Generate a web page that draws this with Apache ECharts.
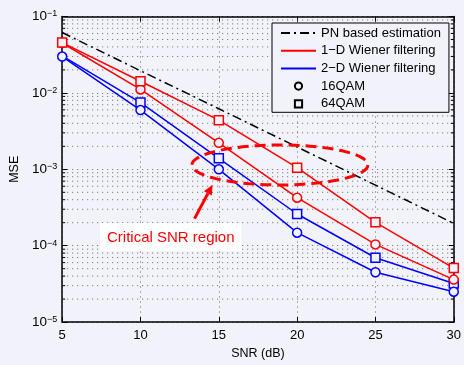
<!DOCTYPE html>
<html><head><meta charset="utf-8">
<script src="https://cdn.jsdelivr.net/npm/echarts@6/dist/echarts.min.js"></script>
<style>html,body{margin:0;padding:0;background:#f2f2fa;}#c{width:464px;height:365px;}</style>
</head><body><div id="c"></div>
<script>
var snr = [5, 10, 15, 20, 25, 30];
var pnEstimation = [0.0617, 0.0195, 0.0062, 0.00196, 0.00062, 0.000196];
var wiener1D_16QAM = [0.0450, 0.0111, 0.00222, 0.000425, 0.000104, 0.000036];
var wiener1D_64QAM = [0.0456, 0.0142, 0.0044, 0.00105, 0.000202, 0.000051];
var wiener2D_16QAM = [0.0299, 0.00596, 0.00100, 0.000148, 0.0000449, 0.0000250];
var wiener2D_64QAM = [0.0305, 0.00747, 0.00139, 0.000260, 0.0000696, 0.0000320];
var legendNames = ['PN based estimation', '1\u2212D Wiener filtering', '2\u2212D Wiener filtering', '16QAM', '64QAM'];
var xTicks = [5, 10, 15, 20, 25, 30];
var yMin = 1e-5, yMax = 1e-1;

var BG = '#f2f2fa';
var FONT = '"Liberation Sans", Arial, sans-serif';

function pairs(ys) { return snr.map(function (x, i) { return [x, ys[i]]; }); }

var minorVals = [];
for (var e = -5; e < -1; e++) {
  for (var m = 2; m <= 9; m++) minorVals.push([5, m * Math.pow(10, e)]);
}

function dataSeries(name, ys, color, symbol, z, hideFirst) {
  var d = pairs(ys).map(function (p, i) {
    return (hideFirst && i === 0) ? { value: p, symbol: 'none' } : { value: p };
  });
  return {
    type: 'line', name: name, data: d, symbol: symbol, symbolSize: 9,
    showAllSymbol: true, z: z,
    lineStyle: { color: color, width: 1.5 },
    itemStyle: { color: BG, borderColor: color, borderWidth: 1.5 },
    emphasis: { disabled: true }, animation: false
  };
}

var chart = echarts.init(document.getElementById('c'), null, { renderer: 'canvas' });

var supFmt = function (v) {
  var ex = Math.round(Math.log10(v));
  return '{b|10}{e|' + (ex < 0 ? '\u2212' + (-ex) : ex) + '}';
};

var hideSym = { opacity: 0 };
var option = {
  backgroundColor: BG,
  animation: false,
  grid: { left: 57, right: 9, top: 16.5, bottom: 34.5, show: false },
  legend: {
    data: [
      { name: legendNames[0], itemStyle: hideSym },
      { name: legendNames[1], itemStyle: hideSym },
      { name: legendNames[2], itemStyle: hideSym },
      { name: legendNames[3] },
      { name: legendNames[4] }
    ],
    orient: 'vertical', left: 272, top: 23,
    padding: [3.5, 8, 2, 8],
    itemWidth: 35, itemHeight: 9, itemGap: 4.7,
    backgroundColor: BG, borderColor: '#000', borderWidth: 1,
    textStyle: { fontFamily: FONT, fontSize: 13, color: '#000' },
    selectedMode: false
  },
  xAxis: [{
    type: 'value', min: 5, max: 30, interval: 5,
    name: 'SNR (dB)', nameLocation: 'middle', nameGap: 21,
    nameTextStyle: { fontFamily: FONT, fontSize: 12.5, color: '#000' },
    axisLine: { lineStyle: { color: '#000', width: 1.5 } },
    axisTick: { inside: true, length: 5, lineStyle: { color: '#000' } },
    axisLabel: { fontFamily: FONT, fontSize: 13, color: '#000', margin: 7 },
    splitLine: { show: true, lineStyle: { color: '#666', type: [1, 4], width: 1 } }
  }, {
    type: 'value', min: 5, max: 30, interval: 5, position: 'top',
    axisLine: { show: true, lineStyle: { color: '#000', width: 1.5 } },
    axisTick: { inside: true, length: 5, lineStyle: { color: '#000' } },
    axisLabel: { show: false }, splitLine: { show: false }
  }],
  yAxis: [{
    type: 'log', logBase: 10, min: yMin, max: yMax, splitNumber: 4,
    name: 'MSE', nameLocation: 'middle', nameGap: 39, nameRotate: 90,
    nameTextStyle: { fontFamily: FONT, fontSize: 12.5, color: '#000' },
    axisLine: { show: true, lineStyle: { color: '#000', width: 1.5 } },
    axisTick: { inside: true, length: 5, lineStyle: { color: '#000' } },
    axisLabel: {
      formatter: supFmt, margin: 5,
      rich: {
        b: { fontFamily: FONT, fontSize: 13.5, color: '#000' },
        e: { fontFamily: FONT, fontSize: 9, color: '#000', verticalAlign: 'top', lineHeight: 9, padding: [0, 0, 9, 0] }
      }
    },
    splitLine: { show: true, lineStyle: { color: '#666', type: [1, 4], width: 1 } }
  }, {
    type: 'log', logBase: 10, min: yMin, max: yMax, splitNumber: 4, position: 'right',
    axisLine: { show: true, lineStyle: { color: '#000', width: 1.5 } },
    axisTick: { inside: true, length: 5, lineStyle: { color: '#000' } },
    axisLabel: { show: false }, splitLine: { show: false }
  }],
  series: [
    {
      type: 'custom', name: 'minor', data: minorVals, z: 1, silent: true, clip: false,
      encode: { x: 0, y: 1 },
      renderItem: function (params, api) {
        var v = api.value(1);
        var a = api.coord([5, v]), b = api.coord([30, v]);
        return {
          type: 'group', children: [
            { type: 'line', shape: { x1: a[0], y1: a[1], x2: b[0], y2: b[1] }, style: { stroke: '#666', lineWidth: 1, lineDash: [1, 4] } },
            { type: 'line', shape: { x1: a[0], y1: a[1], x2: a[0] + 3, y2: a[1] }, style: { stroke: '#000', lineWidth: 1 } },
            { type: 'line', shape: { x1: b[0] - 3, y1: b[1], x2: b[0], y2: b[1] }, style: { stroke: '#000', lineWidth: 1 } }
          ]
        };
      }
    },
    {
      type: 'line', name: legendNames[0], data: pairs(pnEstimation), symbol: 'none', z: 3,
      lineStyle: { color: '#000', width: 1.5, type: [9, 4, 2, 4] }, itemStyle: { color: '#000' }, animation: false
    },
    { type: 'line', name: legendNames[1], data: [], symbol: 'none', lineStyle: { color: '#ff0000', width: 1.5 }, itemStyle: { color: '#ff0000' } },
    { type: 'line', name: legendNames[2], data: [], symbol: 'none', lineStyle: { color: '#0000ff', width: 1.5 }, itemStyle: { color: '#0000ff' } },
    { type: 'line', name: legendNames[3], data: [], symbol: 'circle', lineStyle: { width: 0, opacity: 0 }, itemStyle: { color: BG, borderColor: '#000', borderWidth: 2 } },
    { type: 'line', name: legendNames[4], data: [], symbol: 'rect', lineStyle: { width: 0, opacity: 0 }, itemStyle: { color: BG, borderColor: '#000', borderWidth: 2 } },
    dataSeries('2D-64', wiener2D_64QAM, '#0000ff', 'rect', 4, true),
    dataSeries('2D-16', wiener2D_16QAM, '#0000ff', 'circle', 5, false),
    dataSeries('1D-16', wiener1D_16QAM, '#ff0000', 'circle', 6, false),
    dataSeries('1D-64', wiener1D_64QAM, '#ff0000', 'rect', 7, false)
  ]
};
chart.setOption(option);

// annotation anchored to data coordinates
var ctr = chart.convertToPixel({ gridIndex: 0 }, [18.9, 1.14e-3]);
var tip = chart.convertToPixel({ gridIndex: 0 }, [14.6, 6.3e-4]);
var rx = 88, ry = 20, pts = [];
for (var k = 0; k < 72; k++) {
  var t = k / 72 * Math.PI * 2;
  pts.push([ctr[0] + rx * Math.cos(t), ctr[1] + ry * Math.sin(t)]);
}
var tail = [tip[0] - 18, tip[1] + 34];
var ang = Math.atan2(tip[1] - tail[1], tip[0] - tail[0]);
var hl = 10, hw = 4.5;
var base = [tip[0] - hl * Math.cos(ang), tip[1] - hl * Math.sin(ang)];
var head = [tip,
  [base[0] + hw * Math.sin(ang), base[1] - hw * Math.cos(ang)],
  [base[0] - hw * Math.sin(ang), base[1] + hw * Math.cos(ang)]];
chart.setOption({
  graphic: [
    { type: 'polygon', z: 100, silent: true, shape: { points: pts }, style: { fill: null, stroke: '#ff0000', lineWidth: 3, lineDash: [11, 6] } },
    { type: 'line', z: 100, silent: true, shape: { x1: tail[0], y1: tail[1], x2: base[0], y2: base[1] }, style: { stroke: '#ff0000', lineWidth: 3 } },
    { type: 'polygon', z: 100, silent: true, shape: { points: head }, style: { fill: '#ff0000' } },
    { type: 'text', z: 100, silent: true, left: 100, top: 223, style: { text: 'Critical SNR region', fill: '#ff0000', font: '15px "Liberation Sans", Arial, sans-serif', backgroundColor: '#ffffff', padding: [7, 7, 6, 7] } }
  ]
});
</script></body></html>
